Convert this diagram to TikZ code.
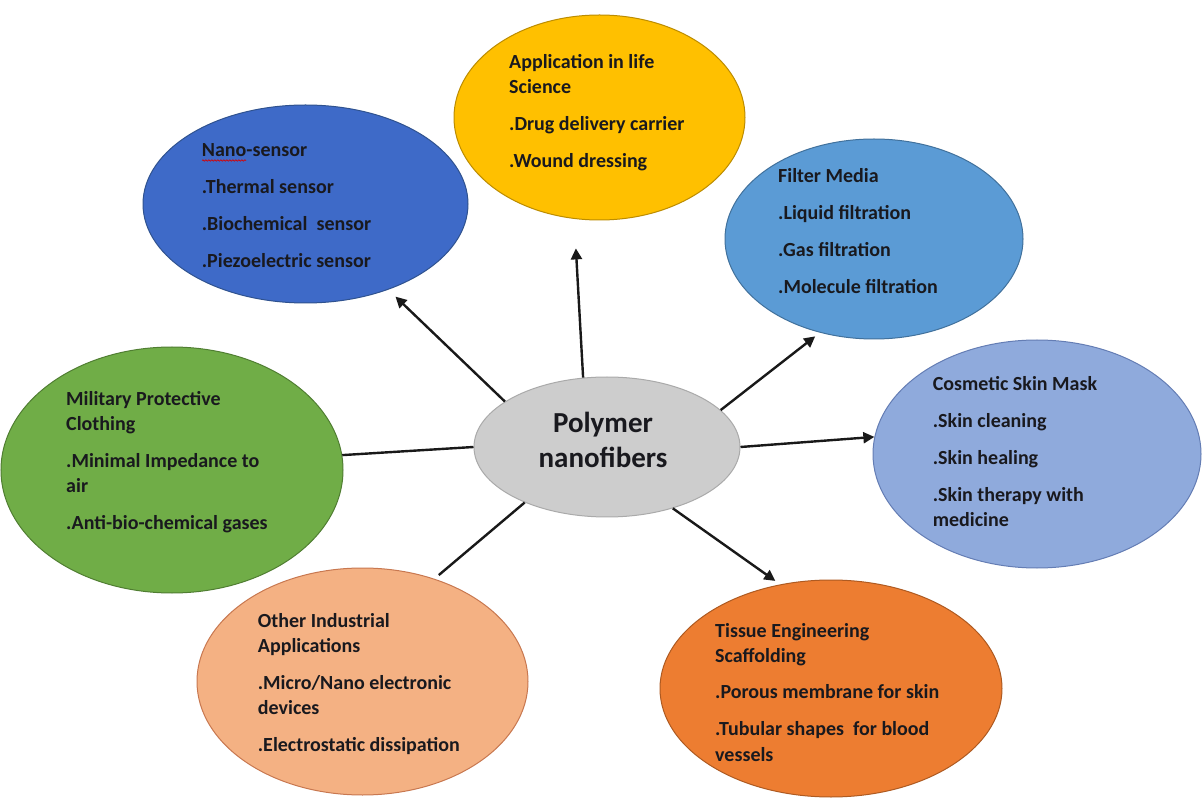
\documentclass[tikz,border=0pt]{standalone}
\usepackage{fontspec}
\setmainfont{Carlito}
\usetikzlibrary{shapes.geometric,arrows.meta,decorations.pathmorphing}
\definecolor{cNano}{RGB}{62,106,200}
\definecolor{cNanoB}{RGB}{47,82,143}
\definecolor{cLife}{RGB}{255,192,0}
\definecolor{cLifeB}{RGB}{188,140,0}
\definecolor{cFilt}{RGB}{91,155,213}
\definecolor{cFiltB}{RGB}{65,113,156}
\definecolor{cCosm}{RGB}{143,170,220}
\definecolor{cCosmB}{RGB}{100,125,180}
\definecolor{cTiss}{RGB}{237,125,49}
\definecolor{cTissB}{RGB}{174,90,33}
\definecolor{cOther}{RGB}{244,177,131}
\definecolor{cOtherB}{RGB}{200,120,80}
\definecolor{cMil}{RGB}{112,173,71}
\definecolor{cMilB}{RGB}{80,126,50}
\definecolor{cGray}{RGB}{205,205,205}
\definecolor{cGrayB}{RGB}{170,170,170}
\definecolor{cText}{RGB}{25,25,30}
\tikzset{
  blob/.style={ellipse, inner sep=0pt, line width=1pt},
  txt/.style={anchor=base west, inner sep=0pt, text=cText, font=\fontsize{20}{25}\selectfont\bfseries},
  conn/.style={line width=2.4pt, draw=black!90},
  arr/.style={conn, -{Triangle[length=11pt,width=11pt]}}
}
\newcommand{\tb}[1]{\parbox[t]{260pt}{\raggedright #1}}
\begin{document}
\begin{tikzpicture}[x=1pt,y=-1pt]
\useasboundingbox[fill=white] (0,0) rectangle (1203,799);
% ellipses
\node[blob, fill=cNano, draw=cNanoB, minimum width=325pt, minimum height=198pt] (nano) at (305.5,204) {};
\node[blob, fill=cLife, draw=cLifeB, minimum width=291pt, minimum height=205pt] (life) at (599.5,117.5) {};
\node[blob, fill=cFilt, draw=cFiltB, minimum width=298pt, minimum height=200pt] (filt) at (874,239) {};
\node[blob, fill=cCosm, draw=cCosmB, minimum width=328pt, minimum height=228pt] (cosm) at (1037,454) {};
\node[blob, fill=cTiss, draw=cTissB, minimum width=342pt, minimum height=217pt] (tiss) at (831,688.5) {};
\node[blob, fill=cOther, draw=cOtherB, minimum width=331pt, minimum height=227pt] (other) at (362.5,681.5) {};
\node[blob, fill=cMil, draw=cMilB, minimum width=342pt, minimum height=246pt] (mil) at (172,470) {};
\node[blob, fill=cGray, draw=cGrayB, minimum width=266pt, minimum height=140pt] (pn) at (607,447) {};
% connectors
\draw[arr, shorten >=10pt] (pn.156) -- (nano.-46.6);
\draw[arr, shorten >=29.5pt] (pn.109.2) -- (life.256.7);
\draw[arr, shorten >=6pt] (pn.18.6) -- (filt.-120.2);
\draw[arr] (pn.0.9) -- (cosm.174);
\draw[arr, shorten >=6pt] (pn.-43.3) -- (tiss.116.8);
\draw[conn] (pn.180) -- (mil.5.7);
\draw[conn, shorten >=5.7pt] (pn.214.3) -- (other.55.9);
% texts
\node[inner sep=0pt, anchor=base, text=cText, font=\fontsize{29}{35}\selectfont\bfseries] (tpn) at (603,433)
  {\parbox[t]{200pt}{\centering Polymer\\nanofibers}};
\node[txt] (tnano) at (201.7,156.5) {\tb{Nano-sensor\\[12pt].Thermal sensor\\[12pt].Biochemical~ sensor\\[12pt].Piezoelectric sensor}};
\draw[red!85!black, line width=0.7pt, decorate, decoration={snake, amplitude=0.7pt, segment length=3pt}] (202,160.5) -- (246,160.5);
\node[txt] (tlife) at (509,69) {\tb{Application in life\\Science\\[12pt].Drug delivery carrier\\[12pt].Wound dressing}};
\node[txt] (tfilt) at (778,182.2) {\tb{Filter Media\\[12pt].Liquid filtration\\[12pt].Gas filtration\\[12pt].Molecule filtration}};
\node[txt] (tcosm) at (932.7,390.5) {\tb{Cosmetic Skin Mask\\[12pt].Skin cleaning\\[12pt].Skin healing\\[12pt].Skin therapy with\\medicine}};
\node[txt] (ttiss) at (715,637) {\tb{Tissue Engineering\\Scaffolding\\[12pt].Porous membrane for skin\\[12pt].Tubular shapes~ for blood\\vessels}};
\node[txt] (tother) at (257.7,627) {\tb{Other Industrial\\Applications\\[12pt].Micro/Nano electronic\\devices\\[12pt].Electrostatic dissipation}};
\node[txt] (tmil) at (66,406) {\tb{Military Protective\\Clothing\\[12pt].Minimal Impedance to\\air\\[12pt].Anti-bio-chemical gases}};
\end{tikzpicture}
\end{document}
